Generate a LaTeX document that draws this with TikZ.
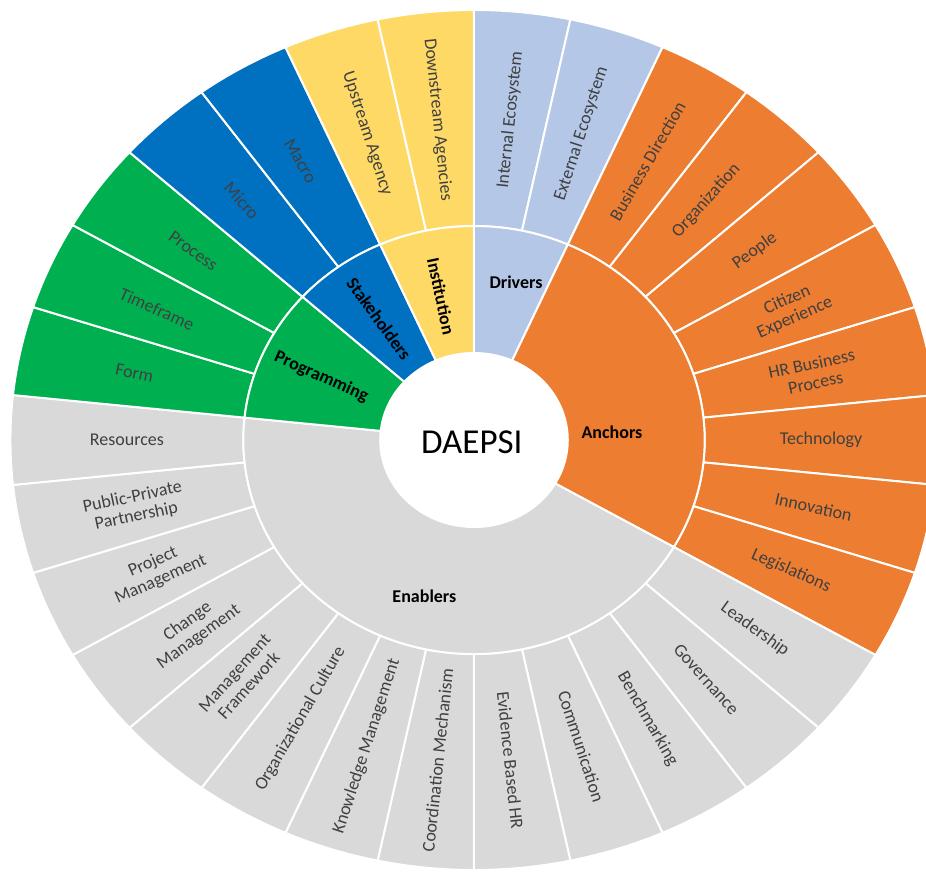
\documentclass[tikz,border=0pt]{standalone}
\usepackage{fontspec}
\setmainfont{Carlito}
\usepackage{tikz}
\definecolor{drv}{HTML}{B4C7E7}
\definecolor{anc}{HTML}{ED7D31}
\definecolor{enb}{HTML}{D9D9D9}
\definecolor{prg}{HTML}{00B050}
\definecolor{stk}{HTML}{0070C0}
\definecolor{ins}{HTML}{FFD966}
\definecolor{txtgrey}{HTML}{404040}

\begin{document}
\begin{tikzpicture}[x=0.5pt,y=0.5pt,xscale=1.078,
  seg/.style={fill=#1,draw=white,line width=1pt},
  leaf/.style={text=txtgrey,font=\fontsize{9}{9.6}\selectfont,align=center,inner sep=0pt},
  cat/.style={font=\bfseries\fontsize{9}{10}\selectfont,text=black,inner sep=0pt}]
\useasboundingbox (-439.7,-434) rectangle (419.3,440);
\clip (-439.7,-434) rectangle (419.3,440);

% outer ring
\foreach \c/\txt/\col [count=\i] in {
  84/Internal Ecosystem/drv, 72/External Ecosystem/drv,
  60/Business Direction/anc, 48/Organization/anc, 36/People/anc,
  24/{Citizen\\Experience}/anc, 12/{HR Business\\Process}/anc,
  0/Technology/anc, -12/Innovation/anc, -24/Legislations/anc,
  -36/Leadership/enb, -48/Governance/enb, -60/Benchmarking/enb,
  -72/Communication/enb, -84/Evidence Based HR/enb,
  -96/Coordination Mechanism/enb, -108/Knowledge Management/enb,
  -120/Organizational Culture/enb, -132/{Management\\Framework}/enb,
  -144/{Change\\Management}/enb, -156/{Project\\Management}/enb,
  -168/{Public-Private\\Partnership}/enb, -180/Resources/enb,
  -192/Form/prg, -204/Timeframe/prg, -216/Process/prg,
  -228/Micro/stk, -240/Macro/stk,
  -252/Upstream Agency/ins, -264/Downstream Agencies/ins}{
  \pgfmathsetmacro\aa{\c-6}
  \pgfmathsetmacro\bb{\c+6}
  \pgfmathsetmacro\rot{\c<-90 ? \c+180 : \c}
  \filldraw[seg=\col] (\aa:214) arc[start angle=\aa,end angle=\bb,radius=214]
    -- (\bb:430) arc[start angle=\bb,end angle=\aa,radius=430] -- cycle;
  \node[leaf,rotate=\rot] (leaf\i) at (\c:322) {\txt};
}

% inner ring
\foreach \a/\b/\col in {66/90/drv, -30/66/anc, -186/-30/enb,
  -222/-186/prg, -246/-222/stk, -270/-246/ins}{
  \filldraw[seg=\col] (\a:87) arc[start angle=\a,end angle=\b,radius=87]
    -- (\b:214) arc[start angle=\b,end angle=\a,radius=214] -- cycle;
}
\fill[white] (0,0) circle[radius=87];

\node[cat] (drivers) at (39,158) {Drivers};
\node[cat] (anchors) at (128,8) {Anchors};
\node[cat] (enablers) at (-46,-156) {Enablers};
\node[cat,rotate=-24] (programming) at (156:155) {Programming};
\node[cat,rotate=-54] (stakeholders) at (126:150) {Stakeholders};
\node[cat,rotate=-78] (institution) at (102:147) {Institution};

\node[font=\fontsize{17.5}{20}\selectfont] (daepsi) at (-2,-2) {DAEPSI};
\end{tikzpicture}
\end{document}
